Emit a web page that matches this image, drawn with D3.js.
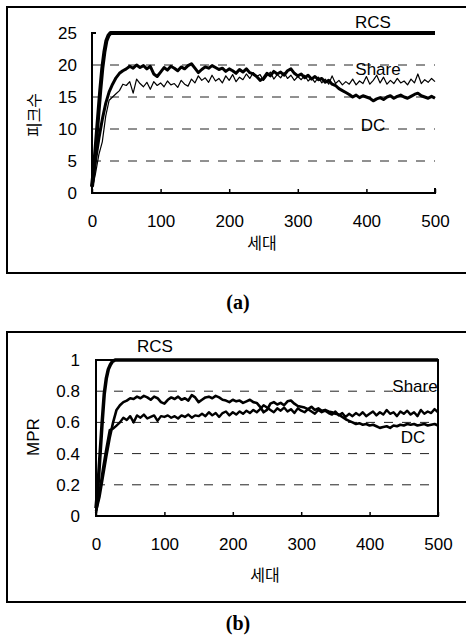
<!DOCTYPE html>
<html><head><meta charset="utf-8">
<script src="https://cdn.jsdelivr.net/npm/d3@7"></script>
<style>body{margin:0;background:#fff} svg{display:block}</style>
</head><body><svg id="c" width="466" height="640"></svg>
<script>
// generation index shared by the noisy series (every 5th generation)
const generations = d3.range(0, 501, 5);
const xTicks = [0, 100, 200, 300, 400, 500];

// ---- Panel (a): 피크수 ----
const yTicksA = [0, 5, 10, 15, 20, 25];
const rcsGenA = [0, 3, 6, 9, 12, 15, 18, 21, 24, 27, 30, 35, 500];
const rcsA    = [1, 4, 8, 12, 16, 19.5, 22, 23.8, 24.6, 25, 25, 25, 25];
const dcA = [1,5,8.5,11.5,14,15.8,17,18,18.7,19.1,19.4,19.8,19.5,20,19.6,19.9,19.4,19.8,18.6,18.2,
  18.9,19.6,19.2,19.8,19.5,19.1,19.7,19.4,19.9,20.2,19.5,18.8,19.3,19.7,19.5,19.9,19.6,19.3,19.5,19.0,
  19.4,19.1,18.7,19.3,18.9,19.4,18.8,18.6,18.2,17.6,17.9,18.7,18.3,19.0,18.6,18.9,18.4,19.1,19.4,18.7,
  18.3,18.6,18.0,18.4,17.8,18.2,17.7,17.9,17.3,17.6,17.0,16.8,16.3,16.0,15.7,15.4,15.0,15.3,14.9,15.2,
  15.0,14.8,14.4,14.7,14.9,14.6,15.0,15.2,14.8,15.1,15.3,15.0,14.8,15.1,15.4,15.6,15.2,15.0,14.8,15.1,14.8];
const shareA = [0.5,3,6,8,12,14.5,15,15.5,16,17,16.8,17.4,15.6,17.8,17.1,16.6,17.3,16.2,17.4,16.8,
  17.2,16.6,17.5,16.9,17.1,16.5,17.6,17.0,16.7,17.8,17.2,18.3,17.6,18.0,17.3,18.4,17.5,17.9,17.2,18.3,
  17.6,18.5,17.4,18.1,17.7,18.6,17.9,18.8,18.2,18.5,17.6,18.3,18.9,17.8,18.5,18.0,18.8,17.9,18.4,17.6,
  18.2,17.7,18.4,17.5,18.0,17.3,18.1,17.2,17.8,17.0,18.3,17.1,17.6,16.9,17.4,17.0,17.8,16.9,17.5,17.1,
  18.2,17.0,17.6,18.4,17.2,18.1,17.0,17.6,17.1,17.9,17.2,17.5,16.9,17.8,17.2,18.6,17.1,17.7,17.3,17.9,17.4];

// ---- Panel (b): MPR ----
const yTicksB = [0, 0.2, 0.4, 0.6, 0.8, 1];
const yLabelsB = ["0", "0.2", "0.4", "0.6", "0.8", "1"];
const rcsGenB = [0, 3, 6, 9, 12, 15, 18, 21, 24, 28, 500];
const rcsB    = [0.05, 0.2, 0.4, 0.6, 0.78, 0.88, 0.94, 0.97, 0.99, 1, 1];
const dcB = [0.03,0.12,0.25,0.38,0.5,0.6,0.68,0.71,0.73,0.74,0.755,0.75,0.765,0.755,0.77,0.76,0.745,0.765,0.755,0.73,
  0.72,0.745,0.76,0.75,0.765,0.745,0.755,0.74,0.775,0.76,0.73,0.745,0.76,0.765,0.755,0.77,0.76,0.745,0.74,0.73,
  0.745,0.735,0.74,0.725,0.735,0.745,0.73,0.725,0.70,0.665,0.68,0.72,0.73,0.715,0.725,0.71,0.735,0.74,0.72,0.705,
  0.70,0.695,0.685,0.70,0.68,0.69,0.675,0.68,0.67,0.665,0.655,0.65,0.635,0.62,0.61,0.60,0.59,0.595,0.585,0.59,
  0.58,0.585,0.575,0.565,0.57,0.575,0.565,0.58,0.575,0.585,0.58,0.59,0.585,0.59,0.58,0.585,0.59,0.58,0.585,0.59,0.58];
const shareB = [0.02,0.15,0.3,0.43,0.55,0.56,0.58,0.60,0.63,0.615,0.64,0.60,0.645,0.63,0.65,0.625,0.635,0.645,0.61,0.64,
  0.635,0.645,0.63,0.64,0.625,0.645,0.635,0.65,0.63,0.645,0.64,0.655,0.64,0.665,0.645,0.66,0.635,0.66,0.67,0.645,
  0.665,0.65,0.67,0.655,0.675,0.66,0.68,0.665,0.685,0.71,0.695,0.68,0.665,0.69,0.675,0.695,0.67,0.685,0.66,0.69,
  0.675,0.665,0.685,0.67,0.655,0.68,0.665,0.675,0.66,0.65,0.67,0.645,0.66,0.635,0.655,0.64,0.66,0.645,0.665,0.64,
  0.655,0.67,0.645,0.665,0.65,0.68,0.655,0.665,0.64,0.67,0.655,0.675,0.65,0.665,0.64,0.68,0.655,0.67,0.66,0.685,0.665];

const svg = d3.select('#c');
const SANS = "'Liberation Sans', Arial, sans-serif";
const KR = "'Noto Sans CJK KR', sans-serif";

function panel(cfg) {
  const g = svg.append('g');
  // outer frame
  g.append('rect').attr('x', cfg.frame[0]).attr('y', cfg.frame[1])
    .attr('width', cfg.frame[2]).attr('height', cfg.frame[3])
    .attr('fill', 'none').attr('stroke', '#000').attr('stroke-width', 2);

  const x = d3.scaleLinear().domain([0, 500]).range([cfg.left, cfg.right]);
  const y = d3.scaleLinear().domain(cfg.yDomain).range([cfg.bottom, cfg.top]);

  // dashed gridlines
  g.append('g').selectAll('line').data(cfg.grid).join('line')
    .attr('x1', x(0)).attr('x2', x(500))
    .attr('y1', d => y(d)).attr('y2', d => y(d))
    .attr('stroke', '#222').attr('stroke-width', 1).attr('stroke-dasharray', '9,9');

  // y axis labels
  const ya = g.append('g').attr('transform', `translate(${cfg.left},0)`)
    .call(d3.axisLeft(y).tickValues(cfg.yTicks).tickSize(0).tickPadding(cfg.yPad)
      .tickFormat((d, i) => cfg.yLabels[i]));
  ya.select('.domain').remove();
  ya.selectAll('text').attr('font-family', SANS).attr('font-size', 17).attr('fill', '#000');

  // x axis
  const xa = g.append('g').attr('transform', `translate(0,${cfg.bottom})`)
    .call(d3.axisBottom(x).tickValues(xTicks).tickSizeInner(-4).tickSizeOuter(0).tickPadding(22));
  xa.select('.domain').remove();
  xa.selectAll('line').attr('stroke', '#000').attr('stroke-width', 1.5);
  xa.selectAll('text').attr('font-family', SANS).attr('font-size', 17).attr('fill', '#000');

  // axis frame
  if (cfg.box) {
    g.append('rect').attr('x', cfg.left).attr('y', cfg.top)
      .attr('width', cfg.right - cfg.left).attr('height', cfg.bottom - cfg.top)
      .attr('fill', 'none').attr('stroke', '#000').attr('stroke-width', 2);
  } else {
    g.append('path').attr('d', `M${cfg.left + 4},${cfg.top}H${cfg.left}V${cfg.bottom}H${cfg.right}V${cfg.bottom - 5}`)
      .attr('fill', 'none').attr('stroke', '#000').attr('stroke-width', 2);
  }

  // series
  cfg.series.forEach(s => {
    const pts = s.gens.map((gg, i) => [gg, s.vals[i]]);
    g.append('path').datum(pts)
      .attr('d', d3.line().x(d => x(d[0])).y(d => y(d[1])))
      .attr('fill', 'none').attr('stroke', '#000').attr('stroke-width', s.w)
      .attr('stroke-linejoin', 'round');
  });

  // series labels
  cfg.labels.forEach(l => {
    g.append('text').attr('x', l[1]).attr('y', l[2]).text(l[0])
      .attr('text-anchor', 'middle').attr('dominant-baseline', 'central')
      .attr('font-family', SANS).attr('font-size', 17);
  });

  // axis titles
  g.append('text').attr('x', cfg.xTitle[0]).attr('y', cfg.xTitle[1]).text('세대')
    .attr('text-anchor', 'middle').attr('dominant-baseline', 'central')
    .attr('font-family', KR).attr('font-size', 16);
  g.append('text').attr('transform', `translate(${cfg.yTitle[0]},${cfg.yTitle[1]}) rotate(-90)`)
    .text(cfg.yTitleText).attr('text-anchor', 'middle').attr('dominant-baseline', 'central')
    .attr('font-family', cfg.yTitleFont).attr('font-size', cfg.yTitleSize);

  // caption
  g.append('text').attr('x', cfg.caption[0]).attr('y', cfg.caption[1]).text(cfg.captionText)
    .attr('text-anchor', 'middle').attr('dominant-baseline', 'central')
    .attr('font-family', "'Liberation Serif', 'Times New Roman', serif").attr('font-weight', 'bold').attr('font-size', 20);
}

panel({
  frame: [7, 7, 470, 266],
  left: 92, right: 435, top: 33, bottom: 193,
  yDomain: [0, 25], yTicks: yTicksA, yLabels: yTicksA.map(String), yPad: 15,
  grid: [5, 10, 15, 20], box: false,
  series: [
    {gens: rcsGenA, vals: rcsA, w: 4},
    {gens: generations, vals: dcA, w: 3},
    {gens: generations, vals: shareA, w: 1.2}
  ],
  labels: [['RCS', 373, 22], ['Share', 378, 69], ['DC', 373, 125]],
  xTitle: [262, 242], yTitle: [33, 115], yTitleText: '피크수', yTitleFont: KR, yTitleSize: 16,
  caption: [238, 302], captionText: '(a)'
});

panel({
  frame: [7, 332, 470, 270],
  left: 96, right: 438, top: 360, bottom: 516,
  yDomain: [0, 1], yTicks: yTicksB, yLabels: yLabelsB, yPad: 16,
  grid: [0.2, 0.4, 0.6, 0.8], box: true,
  series: [
    {gens: rcsGenB, vals: rcsB, w: 3.5},
    {gens: generations, vals: dcB, w: 2.6},
    {gens: generations, vals: shareB, w: 2.4}
  ],
  labels: [['RCS', 155, 346], ['Share', 415, 386], ['DC', 413, 437]],
  xTitle: [265, 574], yTitle: [33, 437], yTitleText: 'MPR', yTitleFont: SANS, yTitleSize: 17,
  caption: [238, 623], captionText: '(b)'
});
</script>
</body></html>
